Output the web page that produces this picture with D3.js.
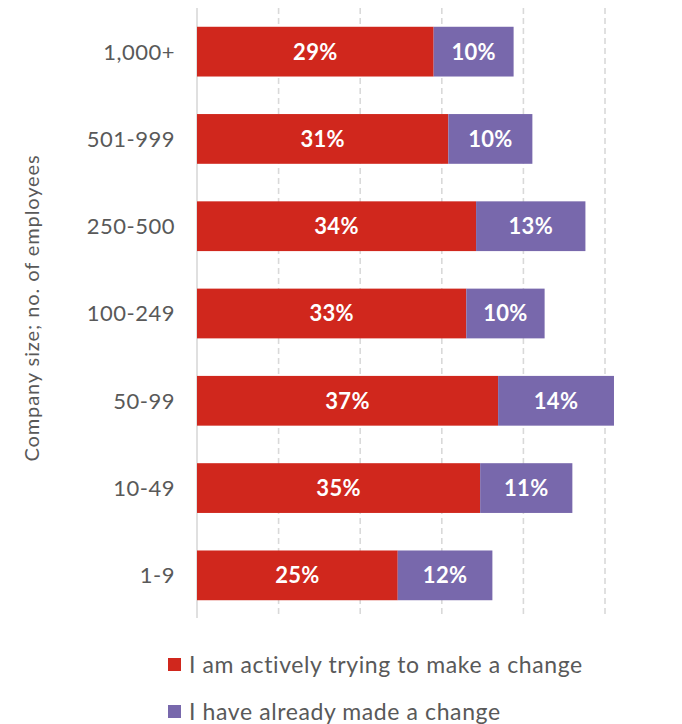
<!DOCTYPE html>
<html>
<head>
<meta charset="utf-8">
<script src="https://cdn.jsdelivr.net/npm/d3@7"></script>
<style>
  body { margin: 0; background: #fff; }
  svg { display: block; font-family: Lato, "Open Sans", sans-serif; }
</style>
</head>
<body>
<div id="chart"></div>
<script>
// Company size categories, top to bottom
const categories = ['1,000+', '501-999', '250-500', '100-249', '50-99', '10-49', '1-9'];
// Share of respondents (%)
const activelyTrying = [29.0, 30.8, 34.2, 33.0, 36.9, 34.7, 24.6];
const alreadyMade = [9.8, 10.3, 13.4, 9.6, 14.2, 11.3, 11.6];
const seriesNames = ['I am actively trying to make a change', 'I have already made a change'];
const xTicks = [0, 10, 20, 30, 40, 50];

const width = 682, height = 724;
const colors = ['#d0271d', '#7868ac'];

const svg = d3.select('#chart').append('svg')
    .attr('width', width)
    .attr('height', height);

const x = d3.scaleLinear().domain([0, 50]).range([197, 605]);
const y = d3.scaleBand().domain(categories).range([8, 619]).paddingInner(0.43).paddingOuter(0.215);

// Gridlines
svg.append('g')
    .selectAll('line')
    .data(xTicks)
    .enter()
    .append('line')
    .attr('x1', d => x(d))
    .attr('x2', d => x(d))
    .attr('y1', 8)
    .attr('y2', 618)
    .attr('stroke', '#d9d9d9')
    .attr('stroke-width', 1.6)
    .attr('stroke-dasharray', d => d === 0 ? null : '6,4');

// Stack the series
const rows = categories.map((c, i) => ({ category: c, a: activelyTrying[i], b: alreadyMade[i] }));
const stack = d3.stack().keys(['a', 'b'])(rows);

const layers = svg.append('g')
    .selectAll('g')
    .data(stack)
    .enter()
    .append('g')
    .attr('fill', (d, i) => colors[i]);

layers.selectAll('rect')
    .data(d => d)
    .enter()
    .append('rect')
    .attr('x', d => x(d[0]))
    .attr('y', d => y(d.data.category))
    .attr('width', d => x(d[1]) - x(d[0]))
    .attr('height', y.bandwidth());

// Value labels
layers.selectAll('text')
    .data(d => d)
    .enter()
    .append('text')
    .attr('x', d => (x(d[0]) + x(d[1])) / 2)
    .attr('y', d => y(d.data.category) + y.bandwidth() / 2)
    .attr('dy', '0.36em')
    .attr('text-anchor', 'middle')
    .attr('fill', '#fff')
    .attr('font-size', '22px')
    .attr('font-weight', 'bold')
    .attr('letter-spacing', '0.3px')
    .text(d => Math.round(d[1] - d[0]) + '%');

// Category axis
const yAxis = svg.append('g')
    .attr('transform', 'translate(175,0)')
    .call(d3.axisLeft(y).tickSize(0).tickPadding(0));
yAxis.select('.domain').remove();
yAxis.selectAll('text')
    .attr('font-size', '22px')
    .attr('font-family', 'Lato, "Open Sans", sans-serif')
    .attr('fill', '#595959')
    .attr('letter-spacing', '0.5px')
    .attr('dy', '0.36em');

// Axis title
svg.append('text')
    .attr('transform', 'translate(39,308) rotate(-90)')
    .attr('text-anchor', 'middle')
    .attr('font-size', '20px')
    .attr('fill', '#595959')
    .attr('letter-spacing', '0.9px')
    .text('Company size; no. of employees');

// Legend
const legend = svg.append('g')
    .selectAll('g')
    .data(seriesNames)
    .enter()
    .append('g')
    .attr('transform', (d, i) => `translate(168,${658 + i * 47})`);

legend.append('rect')
    .attr('width', 13)
    .attr('height', 13)
    .attr('fill', (d, i) => colors[i]);

legend.append('text')
    .attr('x', 21)
    .attr('y', 7)
    .attr('dy', '0.36em')
    .attr('font-size', '23px')
    .attr('fill', '#595959')
    .attr('letter-spacing', '0.6px')
    .text(d => d);
</script>
</body>
</html>
